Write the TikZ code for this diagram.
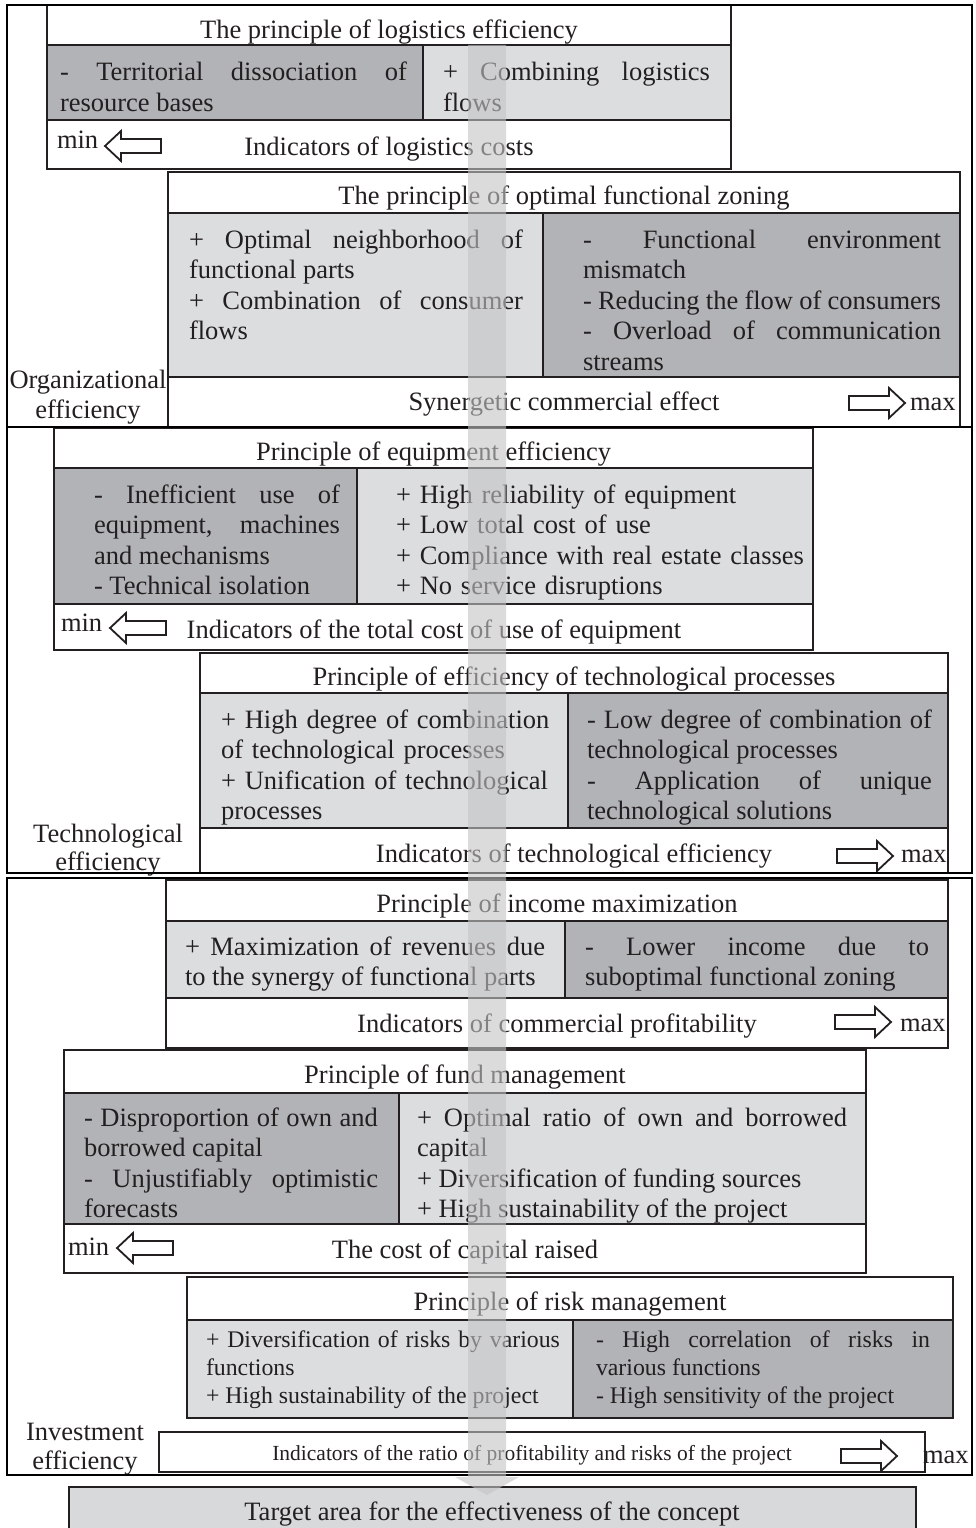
\documentclass[tikz,border=0pt]{standalone}
\usepackage{fontspec}
\setmainfont{Liberation Serif}
\definecolor{darkc}{RGB}{178,179,182}
\definecolor{lightc}{RGB}{220,221,223}
\definecolor{targc}{RGB}{216,217,219}
\definecolor{linec}{RGB}{35,31,32}
\definecolor{bandc}{RGB}{196,196,198}
\newcommand\FSa{\fontsize{26.5}{30.5}\selectfont\hyphenpenalty=10000\exhyphenpenalty=10000\parindent=0pt\relax}
\newcommand\FSb{\fontsize{23.8}{28}\selectfont\hyphenpenalty=10000\exhyphenpenalty=10000\parindent=0pt\relax}
\newcommand\FSc{\fontsize{21.5}{25}\selectfont}
\tikzset{
  cell/.style={rectangle, draw=linec, line width=1.2pt, inner sep=0pt, outer sep=0pt, anchor=north west},
  plain/.style={cell, fill=white},
  darkcell/.style={cell, fill=darkc},
  lightcell/.style={cell, fill=lightc},
  frame/.style={rectangle, draw=black, line width=2.6pt, inner sep=0pt, outer sep=0pt, anchor=north west},
  bgframe/.style={rectangle, fill=white, inner sep=0pt, outer sep=0pt, anchor=north west},
  txt/.style={inner sep=0pt, outer sep=0pt, anchor=base west, font=\FSa, text=linec},
  jtxt/.style={txt, align=justify, text width=#1},
  ltxt/.style={txt, align=left, text width=#1},
  ctxt/.style={inner sep=0pt, outer sep=0pt, anchor=base, font=\FSa, text=linec},
  arrowst/.style={line width=1.8pt, draw=linec, fill=white, line join=miter},
  rarrow/.pic={\draw[arrowst] (0,-7) -- (40,-7) -- (40,-15) -- (56,0) -- (40,15) -- (40,7) -- (0,7) -- cycle;},
  larrow/.pic={\draw[arrowst] (0,0) -- (16,-15) -- (16,-7) -- (56,-7) -- (56,7) -- (16,7) -- (16,15) -- cycle;},
}
\begin{document}
\begin{tikzpicture}[x=1pt,y=-1pt]
\useasboundingbox (0,0) rectangle (976,1528);
% backgrounds of the three sections
\node[bgframe, minimum width=965pt, minimum height=422pt] (orgbg) at (7,5) {};
\node[bgframe, minimum width=965pt, minimum height=446pt] (techbg) at (7,427) {};
\node[ctxt] (techlab1) at (108,842) {Technological};
\node[ctxt] (techlab2) at (108,870) {efficiency};
\node[bgframe, minimum width=965pt, minimum height=597pt] (invbg) at (7,878) {};

% ---------- Box A: logistics
\node[plain, minimum width=684pt, minimum height=40pt] (At) at (47,5) {};
\node[darkcell, minimum width=376pt, minimum height=75pt] (Al) at (47,45) {};
\node[lightcell, minimum width=308pt, minimum height=75pt] (Ar) at (423,45) {};
\node[plain, minimum width=684pt, minimum height=49pt] (Ab) at (47,120) {};
\node[ctxt] (Att) at (389,38) {The principle of logistics efficiency};
\node[jtxt=347pt] (Alt) at (60,81) {- Territorial dissociation of\linebreak resource bases};
\node[jtxt=267pt] (Art) at (443,81) {+ Combining logistics\linebreak flows};
\node[txt] (Amin) at (57,148) {min};
\pic at (105,146) {larrow};
\node[ctxt] (Abt) at (389,155) {Indicators of logistics costs};

% ---------- Box B: zoning
\node[plain, minimum width=792pt, minimum height=41pt] (Bt) at (168,172) {};
\node[lightcell, minimum width=375pt, minimum height=164pt] (Bl) at (168,213) {};
\node[darkcell, minimum width=417pt, minimum height=164pt] (Br) at (543,213) {};
\node[plain, minimum width=792pt, minimum height=50pt] (Bb) at (168,377) {};
\node[ctxt] (Btt) at (564,204) {The principle of optimal functional zoning};
\node[jtxt=334pt] (Blt) at (189,248) {+ Optimal neighborhood of\linebreak functional parts\par + Combination of consumer\linebreak flows};
\node[jtxt=358pt] (Brt) at (583,248) {- Functional environment\linebreak mismatch\par - Reducing the flow of consumers\par - Overload of communication\linebreak streams};
\node[ctxt] (Bbt) at (564,410) {Synergetic commercial effect};
\pic at (849,403) {rarrow};
\node[txt] (Bmax) at (910,410) {max};
\node[ctxt] (orglab1) at (88,388) {Organizational};
\node[ctxt] (orglab2) at (88,418) {efficiency};

% ---------- Box C: equipment
\node[plain, minimum width=759pt, minimum height=40pt] (Ct) at (54,428) {};
\node[darkcell, minimum width=303pt, minimum height=136pt] (Cl) at (54,468) {};
\node[lightcell, minimum width=456pt, minimum height=136pt] (Cr) at (357,468) {};
\node[plain, minimum width=759pt, minimum height=46pt] (Cb) at (54,604) {};
\node[ctxt] (Ctt) at (433.5,460) {Principle of equipment efficiency};
\node[jtxt=246pt] (Clt) at (94,503) {- Inefficient use of\linebreak equipment, machines\linebreak and mechanisms\par - Technical isolation};
\node[ltxt=440pt] (Crt) at (396,503) {+ High reliability of equipment\\+ Low total cost of use\\+ Compliance with real estate classes\\+ No service disruptions};
\node[txt] (Cmin) at (61,631) {min};
\pic at (110,628) {larrow};
\node[ctxt] (Cbt) at (434,638) {Indicators of the total cost of use of equipment};

% ---------- Box D: technological processes
\node[plain, minimum width=748pt, minimum height=40pt] (Dt) at (200,653) {};
\node[lightcell, minimum width=368pt, minimum height=135pt] (Dl) at (200,693) {};
\node[darkcell, minimum width=380pt, minimum height=135pt] (Dr) at (568,693) {};
\node[plain, minimum width=748pt, minimum height=45pt] (Db) at (200,828) {};
\node[ctxt] (Dtt) at (574,685) {Principle of efficiency of technological processes};
\node[ltxt=340pt] (Dlt) at (221,728) {+ High degree of combination\\of technological processes\\+ Unification of technological\\processes};
\node[jtxt=345pt] (Drt) at (587,728) {- Low degree of combination of\linebreak technological processes\par - Application of unique\linebreak technological solutions};
\node[ctxt] (Dbt) at (574,862) {Indicators of technological efficiency};
\pic at (837,856) {rarrow};
\node[txt] (Dmax) at (901,862) {max};

% ---------- Box E: income
\node[plain, minimum width=782pt, minimum height=41pt] (Et) at (166,880) {};
\node[lightcell, minimum width=399pt, minimum height=77pt] (El) at (166,921) {};
\node[darkcell, minimum width=383pt, minimum height=77pt] (Er) at (565,921) {};
\node[plain, minimum width=782pt, minimum height=50pt] (Eb) at (166,998) {};
\node[ctxt] (Ett) at (557,912) {Principle of income maximization};
\node[jtxt=360pt] (Elt) at (185,955) {+ Maximization of revenues due\linebreak to the synergy of functional parts};
\node[jtxt=344pt] (Ert) at (585,955) {- Lower income due to\linebreak suboptimal functional zoning};
\node[ctxt] (Ebt) at (557,1032) {Indicators of commercial profitability};
\pic at (835,1022) {rarrow};
\node[txt] (Emax) at (900,1031) {max};

% ---------- Box F: fund management
\node[plain, minimum width=802pt, minimum height=43pt] (Ft) at (64,1050) {};
\node[darkcell, minimum width=335pt, minimum height=131pt] (Fl) at (64,1093) {};
\node[lightcell, minimum width=467pt, minimum height=131pt] (Fr) at (399,1093) {};
\node[plain, minimum width=802pt, minimum height=49pt] (Fb) at (64,1224) {};
\node[ctxt] (Ftt) at (465,1083) {Principle of fund management};
\node[jtxt=294pt] (Flt) at (84,1126) {- Disproportion of own and\linebreak borrowed capital\par - Unjustifiably optimistic\linebreak forecasts};
\node[jtxt=430pt] (Frt) at (417,1126) {+ Optimal ratio of own and borrowed\linebreak capital\par + Diversification of funding sources\par + High sustainability of the project};
\node[txt] (Fmin) at (68,1255) {min};
\pic at (117,1248) {larrow};
\node[ctxt] (Fbt) at (465,1258) {The cost of capital raised};

% ---------- Box G: risk management
\node[plain, minimum width=766pt, minimum height=43pt] (Gt) at (187,1277) {};
\node[lightcell, minimum width=386pt, minimum height=98pt] (Gl) at (187,1320) {};
\node[darkcell, minimum width=380pt, minimum height=98pt] (Gr) at (573,1320) {};
\node[ctxt] (Gtt) at (570,1310) {Principle of risk management};
\node[jtxt=354pt, font=\FSb] (Glt) at (206,1347) {+ Diversification of risks by various\linebreak functions\par + High sustainability of the project};
\node[jtxt=334pt, font=\FSb] (Grt) at (596,1347) {- High correlation of risks in\linebreak various functions\par - High sensitivity of the project};

% ---------- ratio row
\node[plain, minimum width=766pt, minimum height=40pt] (Hb) at (159,1432) {};
\node[ctxt, font=\FSc] (Hbt) at (532,1460) {Indicators of the ratio of profitability and risks of the project};
\pic at (841,1456) {rarrow};
\node[txt] (Hmax) at (923,1463) {max};
\node[ctxt] (invlab1) at (85,1440) {Investment};
\node[ctxt] (invlab2) at (85,1469) {efficiency};

% ---------- section frames
\node[frame, minimum width=965pt, minimum height=422pt] (orgframe) at (7,5) {};
\node[frame, minimum width=965pt, minimum height=446pt] (techframe) at (7,427) {};
\node[frame, minimum width=965pt, minimum height=597pt] (invframe) at (7,878) {};

% ---------- target
\node[cell, fill=targc, line width=1.4pt, minimum width=847pt, minimum height=60pt] (target) at (69,1487) {};
\node[ctxt] (targett) at (492,1520) {Target area for the effectiveness of the concept};

% ---------- central band arrow
\fill[bandc, opacity=0.6] (468,45) -- (506,45) -- (506,1477) -- (519,1477) -- (487,1495) -- (455,1477) -- (468,1477) -- cycle;
\end{tikzpicture}
\end{document}
